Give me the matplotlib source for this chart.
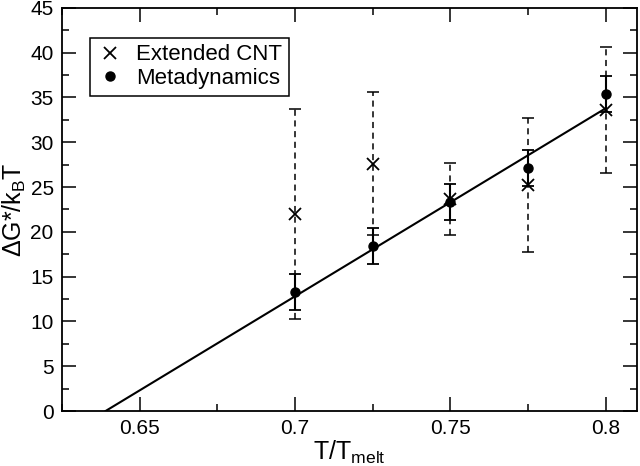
import matplotlib
matplotlib.use("Agg")
import matplotlib.pyplot as plt
from matplotlib.lines import Line2D
from matplotlib.ticker import MultipleLocator

plt.rcParams['font.family'] = ['Liberation Sans', 'DejaVu Sans']
plt.rcParams['mathtext.fontset'] = 'custom'
plt.rcParams['mathtext.rm'] = 'Liberation Sans'
plt.rcParams['mathtext.it'] = 'Liberation Sans:italic'

T = [0.7, 0.725, 0.75, 0.775, 0.8]
cnt_y = [22.0, 27.6, 23.7, 25.2, 33.6]
cnt_err = [11.7, 8.0, 4.0, 7.5, 7.0]
meta_y = [13.3, 18.4, 23.3, 27.1, 35.4]
meta_err = [2.0, 2.0, 2.0, 2.0, 2.0]
fit_x = [0.639, 0.8]
fit_y = [0.0, 33.8]

fig = plt.figure(figsize=(6.4, 4.66), dpi=100)
ax = fig.add_axes([0.097, 0.118, 0.898, 0.865])

ax.plot(fit_x, fit_y, color='black', lw=1.5, zorder=2)

eb1 = ax.errorbar(T, cnt_y, yerr=cnt_err, fmt='none', ecolor='black',
                  elinewidth=1.1, capsize=4.2, capthick=1.1, zorder=3)
eb1[2][0].set_linestyle((0, (4, 3)))
ax.plot(T, cnt_y, linestyle='none', marker='x', markersize=8,
        markeredgewidth=1.3, color='black', zorder=4)

ax.errorbar(T, meta_y, yerr=meta_err, fmt='none', ecolor='black',
            elinewidth=1.5, capsize=4.5, capthick=1.3, zorder=3)
ax.plot(T, meta_y, linestyle='none', marker='o', markersize=6.5,
        color='black', zorder=5)

ax.set_xlim(0.625, 0.81)
ax.set_ylim(0, 45)
ax.xaxis.set_major_locator(MultipleLocator(0.05))
ax.xaxis.set_minor_locator(MultipleLocator(0.025))
ax.yaxis.set_major_locator(MultipleLocator(5))
ax.yaxis.set_minor_locator(MultipleLocator(2.5))
ax.set_xticks([0.65, 0.7, 0.75, 0.8])
ax.set_xticklabels(['0.65', '0.7', '0.75', '0.8'])

ax.tick_params(which='both', direction='in', top=True, right=True,
               labelsize=15, width=1.1)
ax.tick_params(which='major', length=10, pad=6)
ax.tick_params(which='minor', length=5)
for s in ax.spines.values():
    s.set_linewidth(1.3)

ax.set_xlabel(r'T/T$_\mathrm{melt}$', fontsize=18, labelpad=0)
ax.set_ylabel(r'$\Delta$G*/k$_\mathrm{B}$T', fontsize=18, labelpad=2)

handles = [
    Line2D([], [], linestyle='none', marker='x', markersize=8,
           markeredgewidth=1.3, color='black'),
    Line2D([], [], linestyle='none', marker='o', markersize=6.5,
           color='black'),
]
leg = ax.legend(handles, ['Extended CNT', 'Metadynamics'], loc='upper left',
                bbox_to_anchor=(0.048, 0.926), fontsize=16, frameon=True,
                fancybox=False, edgecolor='black', framealpha=1,
                handlelength=1.2, handletextpad=0.6, borderpad=0.3,
                labelspacing=0.12, borderaxespad=0)
leg.get_frame().set_linewidth(1.1)

fig.savefig('out.png', dpi=100)
